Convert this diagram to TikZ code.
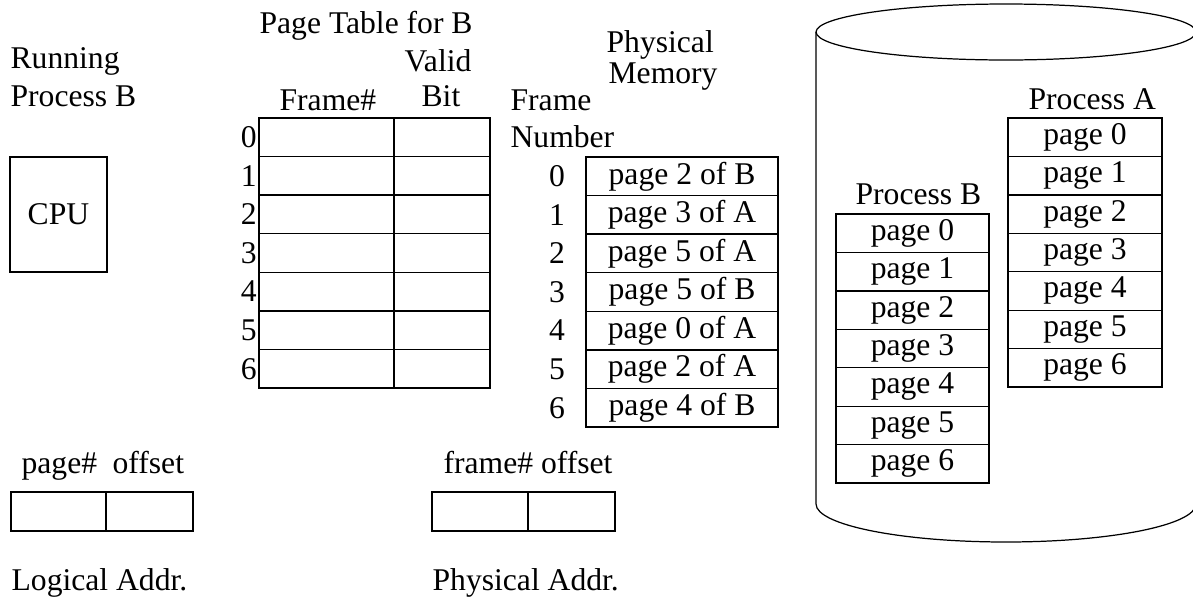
\documentclass[tikz,border=0pt]{standalone}
\usepackage{fontspec}
\setmainfont{Liberation Serif}
\usetikzlibrary{positioning}
\begin{document}
\begin{tikzpicture}[x=0.02cm,y=-0.02cm,line width=0.7pt,
  every node/.style={font=\fontsize{18}{21}\selectfont},
  lbl/.style={anchor=base west,inner sep=0pt},
  cell/.style={draw,inner sep=0pt,outer sep=0pt,minimum height=0.77cm}]
\useasboundingbox (0,0) rectangle (1193,599);
% cpu and titles
\node[draw,outer sep=0pt,minimum width=1.94cm,minimum height=2.3cm] (cpu) at (58.5,214.5) {CPU};
\node[lbl] (run1) at (10,68) {Running};
\node[lbl] (run2) at (10,106) {Process B};
\node[lbl] (pttitle) at (259,33) {Page Table for B};
\node[lbl] (valid) at (404,71) {Valid};
\node[lbl] (bit) at (421,106) {Bit};
\node[lbl] (framecol) at (279,110) {Frame\#};
\node[lbl] (phys1) at (606,52) {Physical};
\node[lbl] (phys2) at (608,83) {Memory};
\node[lbl] (fnum1) at (510,110) {Frame};
\node[lbl] (fnum2) at (510,147) {Number};
% page table
\foreach \i in {0,...,6} {
  \node[cell,minimum width=2.7cm] (fr\i) at (326.5,{118+38.57*(\i+0.5)}) {};
  \node[cell,minimum width=1.92cm,right=0pt of fr\i] (vb\i) {};
  \node[anchor=east,inner sep=1pt] (pn\i) at (fr\i.west) {\i};
}
% physical memory
\foreach \p/\q [count=\i from 0] in {2/B,3/A,5/A,5/B,0/A,2/A,4/B} {
  \node[cell,minimum width=3.84cm] (mem\i) at (682,{157+38.57*(\i+0.5)}) {page \p\ of \q};
  \node (fn\i) at (557,{157+38.57*(\i+0.5)}) {\i};
}
% disk
\draw (1006,32) ellipse [x radius=3.8cm,y radius=0.56cm];
\draw (816,32) -- (816,504) arc [start angle=180,end angle=360,x radius=3.8cm,y radius=0.76cm] -- (1196,32);
\node[lbl] (procA) at (1028,109) {Process A};
\node[lbl] (procB) at (855,204) {Process B};
\foreach \i in {0,...,6} {
  \node[cell,minimum width=3.08cm] (pa\i) at (1085,{118+38.43*(\i+0.5)}) {page \i};
  \node[cell,minimum width=3.06cm] (pb\i) at (912.5,{214+38.43*(\i+0.5)}) {page \i};
}
% addresses
\node[cell,minimum width=1.9cm,minimum height=0.78cm] (lpg) at (58.5,511.5) {};
\node[cell,minimum width=1.74cm,minimum height=0.78cm,right=0pt of lpg] (lof) {};
\node[cell,minimum width=1.92cm,minimum height=0.78cm] (pfr) at (480,511.5) {};
\node[cell,minimum width=1.74cm,minimum height=0.78cm,right=0pt of pfr] (pof) {};
\node[lbl] (lpage) at (21,473) {page\#};
\node[lbl] (loff) at (112,473) {offset};
\node[lbl] (pfoff) at (443,473) {frame\# offset};
\node[lbl] (laddr) at (11,590) {Logical Addr.};
\node[lbl] (paddr) at (432,590) {Physical Addr.};
\end{tikzpicture}
\end{document}
